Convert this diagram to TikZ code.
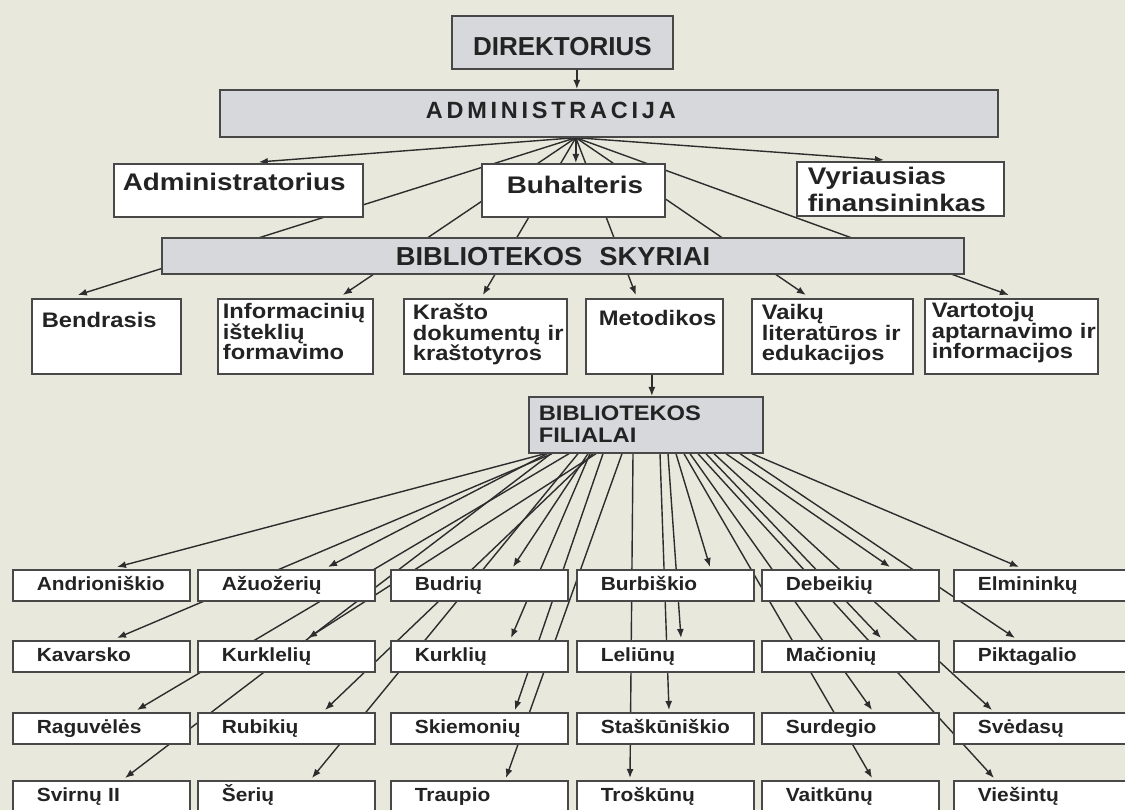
\documentclass[tikz,border=0pt]{standalone}
\usepackage{fontspec}
\setmainfont{Liberation Sans}
\newfontfamily\fTop[FakeStretch=1.16]{Liberation Sans}
\newfontfamily\fSky[FakeStretch=1.05]{Liberation Sans}
\newfontfamily\fDep[FakeStretch=1.13]{Liberation Sans}
\newfontfamily\fBr[FakeStretch=1.10]{Liberation Sans}
\newfontfamily\fAdm[LetterSpace=16]{Liberation Sans}
\usetikzlibrary{arrows.meta}
\pgfdeclarelayer{back}
\pgfdeclarelayer{lines}
\pgfsetlayers{back,lines,main}
\hyphenpenalty=10000
\exhyphenpenalty=10000
\definecolor{bgc}{RGB}{232,232,220}
\definecolor{boxgray}{RGB}{214,216,219}
\definecolor{edge}{RGB}{72,72,72}
\definecolor{ink}{RGB}{35,35,35}
\definecolor{linec}{RGB}{45,45,45}
\tikzset{
  box/.style={draw=edge, line width=1.7pt, anchor=north west, inner ysep=0pt, align=left, text=ink},
  gbox/.style={box, fill=boxgray},
  wbox/.style={box, fill=white},
  topfont/.style={font=\fTop\bfseries\fontsize{24}{27}\selectfont},
  depfont/.style={font=\fDep\bfseries\fontsize{21}{20.5}\selectfont},
  br/.style={wbox, inner xsep=24pt, text width=129pt, text height=20.5pt, text depth=10.5pt,
    font=\fBr\bfseries\fontsize{19}{22}\selectfont},
  brw/.style={br, text width=137pt},
  arr/.style={draw=linec, line width=1.4pt, -{Latex[length=9pt,width=7pt]}},
}
\begin{document}
\begin{tikzpicture}[x=1pt,y=-1pt]
\useasboundingbox (0,0) rectangle (1125,810);
\begin{pgfonlayer}{back}
\fill[bgc] (0,0) rectangle (1125,810);
\end{pgfonlayer}

% top
\node[gbox, inner xsep=5pt, text width=211pt, align=center, text height=40pt, text depth=13pt,
  font=\bfseries\fontsize{26}{30}\selectfont] (dir) at (451,15) {DIREKTORIUS};
\node[gbox, inner xsep=206pt, text width=366pt, text height=29pt, text depth=18pt,
  font=\fAdm\bfseries\fontsize{23.5}{28}\selectfont] (adm) at (219,89) {ADMINISTRACIJA};
\node[wbox, topfont, inner xsep=9pt, text width=231pt, text height=27pt, text depth=26pt] (admr) at (113,163) {Administratorius};
\node[wbox, topfont, inner xsep=25pt, text width=133pt, text height=30pt, text depth=23pt] (buh) at (481,163) {Buhalteris};
\node[wbox, topfont, inner xsep=11pt, text width=185pt, text height=23pt, text depth=31pt] (vyr) at (796,161) {Vyriausias\\finansininkas};

\node[gbox, inner xsep=234pt, text width=334pt, text height=28pt, text depth=8pt,
  font=\fSky\bfseries\fontsize{26}{30}\selectfont] (sky) at (161,237) {BIBLIOTEKOS\hspace{17pt}SKYRIAI};

% departments
\node[wbox, depfont, inner xsep=10pt, text width=129pt, text height=29pt, text depth=46pt] (d1) at (31,298) {Bendrasis};
\node[wbox, depfont, inner xsep=5pt, text width=145pt, text height=20pt, text depth=55pt] (d2) at (217,298) {Informacinių\\išteklių\\formavimo};
\node[wbox, depfont, inner xsep=9pt, text width=145pt, text height=21pt, text depth=54pt] (d3) at (403,298) {Krašto\\dokumentų~ir\\kraštotyros};
\node[wbox, depfont, inner xsep=13pt, text width=111pt, text height=27pt, text depth=48pt] (d4) at (585,298) {Metodikos};
\node[wbox, depfont, inner xsep=10pt, text width=141pt, text height=21pt, text depth=54pt] (d5) at (751,298) {Vaikų\\literatūros~ir\\edukacijos};
\node[wbox, depfont, inner xsep=7pt, text width=159pt, text height=19pt, text depth=56pt] (d6) at (924,298) {Vartotojų\\aptarnavimo~ir\\informacijos};

\node[gbox, inner xsep=10pt, text width=214pt, text height=24pt, text depth=32pt,
  font=\fDep\bfseries\fontsize{21}{22}\selectfont] (fil) at (528,396) {BIBLIOTEKOS\\FILIALAI};

% branches
\node[br] (b11) at (12,569) {Andrioniškio};
\node[br] (b12) at (197,569) {Ažuožerių};
\node[br] (b13) at (390,569) {Budrių};
\node[br] (b14) at (576,569) {Burbiškio};
\node[br] (b15) at (761,569) {Debeikių};
\node[brw] (b16) at (953,569) {Elmininkų};
\node[br] (b21) at (12,640) {Kavarsko};
\node[br] (b22) at (197,640) {Kurklelių};
\node[br] (b23) at (390,640) {Kurklių};
\node[br] (b24) at (576,640) {Leliūnų};
\node[br] (b25) at (761,640) {Mačionių};
\node[brw] (b26) at (953,640) {Piktagalio};
\node[br] (b31) at (12,712) {Raguvėlės};
\node[br] (b32) at (197,712) {Rubikių};
\node[br] (b33) at (390,712) {Skiemonių};
\node[br] (b34) at (576,712) {Staškūniškio};
\node[br] (b35) at (761,712) {Surdegio};
\node[brw] (b36) at (953,712) {Svėdasų};
\node[br] (b41) at (12,780) {Svirnų II};
\node[br] (b42) at (197,780) {Šerių};
\node[br] (b43) at (390,780) {Traupio};
\node[br] (b44) at (576,780) {Troškūnų};
\node[br] (b45) at (761,780) {Vaitkūnų};
\node[brw] (b46) at (953,780) {Viešintų};

\begin{pgfonlayer}{lines}
\draw[arr] ([xshift=14.5pt]dir.south) -- ([xshift=14.5pt]dir.south |- adm.north);
\coordinate (af) at ([xshift=-33pt]adm.south);
\draw[arr] (af) -- ([xshift=20.5pt,yshift=1pt]admr.north);
\draw[arr] (af) -- ([xshift=2.5pt]buh.north);
\draw[arr] (af) -- ([xshift=-16.5pt,yshift=1pt]vyr.north);
\draw[arr] (af) -- ([xshift=-28.5pt,yshift=3pt]d1.north);
\draw[arr] (af) -- ([xshift=47.5pt,yshift=3pt]d2.north);
\draw[arr] (af) -- ([xshift=-2.5pt,yshift=3pt]d3.north);
\draw[arr] (af) -- ([xshift=-18.5pt,yshift=3pt]d4.north);
\draw[arr] (af) -- ([xshift=-26.5pt,yshift=3pt]d5.north);
\draw[arr] (af) -- ([xshift=-2.5pt,yshift=3pt]d6.north);
\draw[arr] ([xshift=-2.5pt]d4.south) -- ([xshift=-2.5pt]d4.south |- fil.north);
% branch fan
\draw[arr] ([xshift=17pt]fil.south west) -- ([xshift=105pt,yshift=2pt]b11.north west);
\draw[arr] ([xshift=19pt]fil.south west) -- ([xshift=131pt,yshift=2pt]b12.north west);
\draw[arr] ([xshift=23pt]fil.south west) -- ([xshift=113pt,yshift=2pt]b41.north west);
\draw[arr] ([xshift=24pt]fil.south west) -- ([xshift=105pt,yshift=2pt]b21.north west);
\draw[arr] ([xshift=41pt]fil.south west) -- ([xshift=125pt,yshift=2pt]b31.north west);
\draw[arr] ([xshift=50pt]fil.south west) -- ([xshift=115pt,yshift=2pt]b42.north west);
\draw[arr] ([xshift=60pt]fil.south west) -- ([xshift=123pt,yshift=2pt]b13.north west);
\draw[arr] ([xshift=62pt]fil.south west) -- ([xshift=121pt,yshift=2pt]b23.north west);
\draw[arr] ([xshift=65pt]fil.south west) -- ([xshift=128pt,yshift=2pt]b32.north west);
\draw[arr] ([xshift=68pt]fil.south west) -- ([xshift=111pt,yshift=2pt]b22.north west);
\draw[arr] ([xshift=75pt]fil.south west) -- ([xshift=125pt,yshift=2pt]b33.north west);
\draw[arr] ([xshift=94pt]fil.south west) -- ([xshift=116pt,yshift=2pt]b43.north west);
\draw[arr] ([xshift=105pt]fil.south west) -- ([xshift=54pt,yshift=2pt]b44.north west);
\draw[arr] ([xshift=132pt]fil.south west) -- ([xshift=93pt,yshift=2pt]b34.north west);
\draw[arr] ([xshift=140pt]fil.south west) -- ([xshift=105pt,yshift=2pt]b24.north west);
\draw[arr] ([xshift=148pt]fil.south west) -- ([xshift=134pt,yshift=2pt]b14.north west);
\draw[arr] ([xshift=156pt]fil.south west) -- ([xshift=111pt,yshift=2pt]b45.north west);
\draw[arr] ([xshift=162pt]fil.south west) -- ([xshift=111pt,yshift=2pt]b35.north west);
\draw[arr] ([xshift=170pt]fil.south west) -- ([xshift=41pt,yshift=2pt]b46.north west);
\draw[arr] ([xshift=178pt]fil.south west) -- ([xshift=120pt,yshift=2pt]b25.north west);
\draw[arr] ([xshift=186pt]fil.south west) -- ([xshift=39pt,yshift=2pt]b36.north west);
\draw[arr] ([xshift=198pt]fil.south west) -- ([xshift=129pt,yshift=2pt]b15.north west);
\draw[arr] ([xshift=212pt]fil.south west) -- ([xshift=62pt,yshift=2pt]b26.north west);
\draw[arr] ([xshift=224pt]fil.south west) -- ([xshift=66pt,yshift=2pt]b16.north west);
\end{pgfonlayer}
\end{tikzpicture}
\end{document}
